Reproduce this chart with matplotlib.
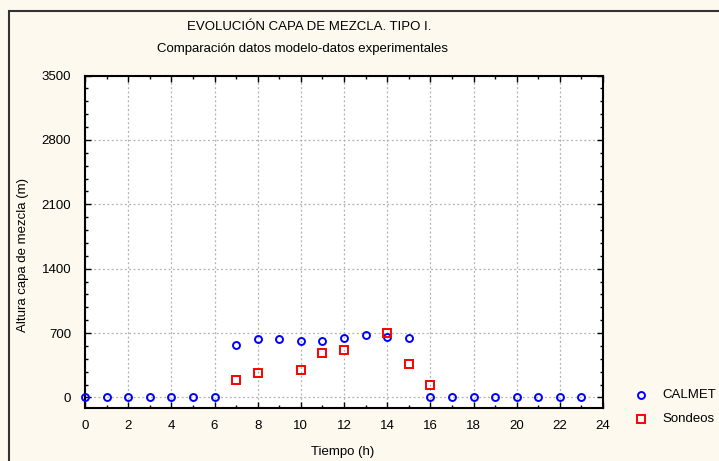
import matplotlib
matplotlib.use("Agg")
import matplotlib.pyplot as plt
from matplotlib.patches import Rectangle
from matplotlib.lines import Line2D
from matplotlib.ticker import MultipleLocator

plt.rcParams["font.family"] = ["Liberation Sans", "DejaVu Sans"]

# data
calmet_hours = list(range(24))
calmet_height = [8, 8, 8, 8, 8, 8, 8, 567, 630, 630, 615, 615, 645, 678, 656, 645,
                 8, 8, 8, 8, 8, 8, 8, 8]
sondeos_hours = [7, 8, 10, 11, 12, 14, 15, 16]
sondeos_height = [184, 265, 294, 486, 520, 697, 361, 136]

x_ticks = list(range(0, 25, 2))
y_ticks = [0, 700, 1400, 2100, 2800, 3500]

bg = "#fdf9ef"
W, H = 719, 461
fig = plt.figure(figsize=(W / 100, H / 100), dpi=100, facecolor=bg)

# outer frame (only top/left visible in the reference)
fig.patches.append(Rectangle((8.5 / W, -0.1), 1.2, 1 - 11 / H + 0.1,
                             transform=fig.transFigure, fill=False,
                             edgecolor="#333333", linewidth=1.5))

ax = fig.add_axes([85 / W, 1 - 408 / H, 518 / W, (408 - 75.5) / H])
ax.set_facecolor("white")

circle_style = dict(marker="o", markersize=5, markerfacecolor="none",
                    markeredgecolor="#0000ff", markeredgewidth=1.4)
square_style = dict(marker="s", markersize=5.3, markerfacecolor="none",
                    markeredgecolor="#ff0000", markeredgewidth=1.4)

ax.plot(calmet_hours, calmet_height, linestyle="none", clip_on=False, zorder=3,
        **circle_style)
ax.plot(sondeos_hours, sondeos_height, linestyle="none", clip_on=False, zorder=4,
        **square_style)

ax.set_xlim(0, 24)
ax.set_ylim(-115, 3500)
ax.set_xticks(x_ticks)
ax.set_yticks(y_ticks)
ax.xaxis.set_minor_locator(MultipleLocator(1))
ax.yaxis.set_minor_locator(MultipleLocator(140))
ax.tick_params(which="both", direction="in", top=True, right=True,
               labelsize=9.5, width=1)
ax.tick_params(axis="x", pad=8.5)
ax.tick_params(axis="y", pad=10)
ax.tick_params(which="major", length=4)
ax.tick_params(which="minor", length=2)
ax.grid(True, which="major", linestyle=(0, (1.5, 2)), color="#b0b0b0", linewidth=0.9)
ax.set_axisbelow(True)
for sp in ax.spines.values():
    sp.set_linewidth(1.5)

fig.text(23 / W, 1 - 255 / H, "Altura capa de mezcla (m)", rotation=90,
         ha="center", va="center", fontsize=9.5)
fig.text(343 / W, 1 - 452 / H, "Tiempo (h)", ha="center", va="center", fontsize=9.5)
fig.text(309 / W, 1 - 29.5 / H, "EVOLUCIÓN CAPA DE MEZCLA. TIPO I.",
         ha="center", va="baseline", fontsize=9.5)
fig.text(302.5 / W, 1 - 51.7 / H, "Comparación datos modelo-datos experimentales",
         ha="center", va="baseline", fontsize=9.5)

# legend
fig.lines.append(Line2D([641 / W], [1 - 395 / H], transform=fig.transFigure,
                        **circle_style))
fig.lines.append(Line2D([641 / W], [1 - 419 / H], transform=fig.transFigure,
                        **square_style))
fig.text(662 / W, 1 - 395 / H, "CALMET", ha="left", va="center", fontsize=9.5)
fig.text(662 / W, 1 - 419 / H, "Sondeos", ha="left", va="center", fontsize=9.5)

plt.savefig("out.png", dpi=100, facecolor=bg)
plt.close()
